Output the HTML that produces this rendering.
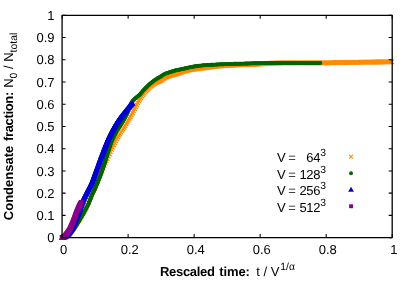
<!DOCTYPE html>
<html><head><meta charset="utf-8"><title>plot</title>
<style>
html,body{margin:0;padding:0;background:#fff;}
body{width:415px;height:291px;overflow:hidden;}
svg{display:block;will-change:transform;}
text{font-family:"Liberation Sans",sans-serif;fill:#000;text-rendering:geometricPrecision;}
</style></head><body>
<svg width="415" height="291" viewBox="0 0 415 291">
<defs>
<marker id="mx" viewBox="-3 -3 6 6" markerWidth="6" markerHeight="6" refX="0" refY="0" markerUnits="userSpaceOnUse" overflow="visible"><path d="M-2.2 -2.2L2.2 2.2M-2.2 2.2L2.2 -2.2" stroke="#ff8c00" stroke-width="1.25" fill="none"/></marker>
<marker id="mc" viewBox="-3 -3 6 6" markerWidth="6" markerHeight="6" refX="0" refY="0" markerUnits="userSpaceOnUse" overflow="visible"><circle r="1.95" fill="#006400"/></marker>
<marker id="mt" viewBox="-4 -4 8 8" markerWidth="8" markerHeight="8" refX="0" refY="0" markerUnits="userSpaceOnUse" overflow="visible"><path d="M0 -3.3L3.2 2.25L-3.2 2.25Z" fill="#0000cd"/></marker>
<marker id="ms" viewBox="-3 -3 6 6" markerWidth="6" markerHeight="6" refX="0" refY="0" markerUnits="userSpaceOnUse" overflow="visible"><rect x="-2.4" y="-2.4" width="4.8" height="4.8" fill="#8b008b"/></marker>
</defs>

<polyline points="62.1,237.6 63.1,237.6 64.2,237.4 65.2,237.2 66.3,236.8 67.3,236.1 68.4,235.3 69.5,234.3 70.5,233.0 71.5,231.6 72.6,230.1 73.7,228.6 74.7,227.0 75.8,225.4 76.8,223.8 77.8,222.2 78.9,220.5 80.0,218.8 81.0,217.0 82.0,215.2 83.1,213.3 84.2,211.3 85.2,209.4 86.2,207.4 87.3,205.2 88.3,202.8 89.4,200.2 90.5,197.5 91.5,195.0 92.6,192.7 93.6,190.5 94.7,188.4 95.7,186.1 96.8,183.7 97.8,181.1 98.8,178.5 99.9,175.7 101.0,173.1 102.0,170.5 103.1,168.0 104.1,165.6 105.2,163.2 106.2,160.9 107.2,158.6 108.3,156.3 109.3,154.0 110.4,151.7 111.5,149.4 112.5,147.2 113.6,145.0 114.6,142.9 115.7,140.8 116.7,138.9 117.8,137.1 118.8,135.4 119.8,133.8 120.9,132.2 122.0,130.6 123.0,129.0 124.1,127.3 125.1,125.7 126.2,123.9 127.2,122.2 128.2,120.4 129.3,118.6 130.3,116.8 131.4,114.9 132.5,113.0 133.5,110.9 134.6,108.8 135.6,106.8 136.7,104.8 137.7,102.8 138.8,100.9 139.8,99.2 140.8,97.6 141.9,96.1 143.0,94.7 144.0,93.4 145.1,92.1 146.1,90.9 147.2,89.8 148.2,88.7 149.2,87.7 150.3,86.7 151.3,85.8 152.4,85.0 153.5,84.2 154.5,83.5 155.6,82.9 156.6,82.3 157.7,81.8 158.7,81.5 159.8,81.2 160.8,80.7 161.8,80.0 162.9,79.2 164.0,78.4 165.0,77.8 166.1,77.2 167.1,76.8 168.2,76.4 169.2,76.0 170.2,75.7 171.3,75.4 172.3,75.1 173.4,74.8 174.5,74.5 175.5,74.2 176.6,73.9 177.6,73.6 178.7,73.2 179.7,72.9 180.8,72.5 181.8,72.2 182.8,71.8 183.9,71.4 185.0,71.1 186.0,70.8 187.1,70.6 188.1,70.3 189.2,70.1 190.2,69.9 191.2,69.7 192.3,69.5 193.3,69.3 194.4,69.2 195.4,69.1 196.5,68.9 197.6,68.8 198.6,68.6 199.7,68.5 200.7,68.3 201.8,68.2 202.8,68.1 203.8,67.9 204.9,67.8 205.9,67.6 207.0,67.5 208.1,67.3 209.1,67.2 210.2,67.1 211.2,67.0 212.2,66.8 213.3,66.7 214.3,66.6 215.4,66.5 216.4,66.3 217.5,66.2 218.6,66.1 219.6,66.0 220.7,65.9 221.7,65.8 222.8,65.7 223.8,65.7 224.8,65.6 225.9,65.5 226.9,65.5 228.0,65.4 229.1,65.4 230.1,65.3 231.2,65.2 232.2,65.2 233.2,65.1 234.3,65.1 235.3,65.0 236.4,64.9 237.4,64.9 238.5,64.8 239.6,64.8 240.6,64.8 241.7,64.7 242.7,64.7 243.8,64.7 244.8,64.6 245.8,64.6 246.9,64.6 247.9,64.6 249.0,64.6 250.1,64.5 251.1,64.5 252.2,64.5 253.2,64.4 254.2,64.4 255.3,64.3 256.4,64.3 257.4,64.2 258.4,64.1 259.5,64.0 260.6,64.0 261.6,63.9 262.7,63.8 263.7,63.7 264.8,63.6 265.8,63.5 266.9,63.5 267.9,63.4 269.0,63.4 270.0,63.3 271.1,63.3 272.1,63.2 273.2,63.2 274.2,63.2 275.2,63.1 276.3,63.1 277.4,63.0 278.4,63.0 279.5,63.0 280.5,63.0 281.6,62.9 282.6,62.9 283.7,62.9 284.7,62.9 285.8,62.9 286.8,62.9 287.9,62.9 288.9,62.9 290.0,62.9 291.0,62.9 292.1,62.9 293.1,62.9 294.2,62.9 295.2,62.9 296.2,62.9 297.3,62.9 298.4,62.9 299.4,62.9 300.5,62.9 301.5,62.9 302.6,62.9 303.6,62.9 304.7,62.9 305.7,62.9 306.8,62.9 307.8,62.9 308.9,62.9 309.9,62.9 311.0,62.9 312.0,62.9 313.1,62.9 314.1,62.9 315.2,62.9 316.2,62.9 317.2,62.9 318.3,62.9 319.4,62.9 320.4,62.9 321.5,62.9 322.5,62.9 323.6,62.9 324.6,62.9 325.7,62.9 326.7,62.8 327.8,62.8 328.8,62.8 329.9,62.8 330.9,62.8 332.0,62.8 333.0,62.7 334.1,62.7 335.1,62.7 336.2,62.7 337.2,62.6 338.3,62.6 339.3,62.6 340.4,62.6 341.4,62.6 342.5,62.5 343.5,62.5 344.6,62.5 345.6,62.5 346.7,62.5 347.7,62.5 348.8,62.4 349.8,62.4 350.9,62.4 351.9,62.4 353.0,62.4 354.0,62.4 355.1,62.3 356.1,62.3 357.2,62.3 358.2,62.3 359.3,62.3 360.3,62.3 361.4,62.2 362.4,62.2 363.5,62.2 364.5,62.2 365.6,62.2 366.6,62.2 367.7,62.2 368.7,62.1 369.8,62.1 370.8,62.1 371.9,62.1 372.9,62.1 374.0,62.1 375.0,62.0 376.1,62.0 377.1,62.0 378.2,62.0 379.2,62.0 380.3,62.0 381.3,62.0 382.4,61.9 383.4,61.9 384.5,61.9 385.5,61.9 386.6,61.9 387.6,61.9 388.7,61.8 389.7,61.8 390.8,61.8 391.8,61.8" fill="none" stroke="none" marker-start="url(#mx)" marker-mid="url(#mx)" marker-end="url(#mx)"/>
<polyline points="62.1,237.6 62.9,237.6 63.7,237.5 64.5,237.4 65.3,237.2 66.1,237.0 66.8,236.7 67.4,236.2 68.1,235.8 68.7,235.3 69.3,234.7 69.9,234.2 70.4,233.6 70.9,233.0 71.4,232.3 71.9,231.7 72.4,231.1 72.9,230.4 73.4,229.8 73.8,229.1 74.2,228.4 74.7,227.8 75.1,227.1 75.6,226.4 76.0,225.8 76.4,225.1 76.9,224.4 77.3,223.8 77.8,223.1 78.2,222.4 78.6,221.7 79.1,221.1 79.5,220.4 79.9,219.7 80.3,219.0 80.7,218.3 81.1,217.6 81.5,216.9 81.9,216.2 82.3,215.6 82.7,214.9 83.1,214.2 83.5,213.4 83.9,212.7 84.3,212.0 84.7,211.3 85.0,210.6 85.4,209.9 85.8,209.2 86.2,208.5 86.5,207.8 86.9,207.1 87.3,206.4 87.6,205.6 87.9,204.9 88.3,204.2 88.6,203.4 88.9,202.7 89.2,202.0 89.5,201.2 89.8,200.5 90.1,199.7 90.4,199.0 90.7,198.2 91.0,197.5 91.3,196.8 91.6,196.0 91.9,195.3 92.2,194.5 92.5,193.8 92.9,193.1 93.2,192.4 93.5,191.6 93.9,190.9 94.2,190.2 94.6,189.5 94.9,188.7 95.3,188.0 95.6,187.3 95.9,186.5 96.2,185.8 96.6,185.1 96.9,184.3 97.2,183.6 97.5,182.9 97.8,182.1 98.1,181.4 98.4,180.6 98.7,179.9 99.0,179.1 99.3,178.4 99.6,177.7 99.9,176.9 100.2,176.2 100.4,175.4 100.7,174.7 101.0,173.9 101.3,173.2 101.5,172.4 101.8,171.6 102.1,170.9 102.4,170.1 102.6,169.4 102.9,168.6 103.1,167.9 103.4,167.1 103.6,166.3 103.9,165.6 104.1,164.8 104.4,164.0 104.6,163.3 104.8,162.5 105.1,161.8 105.3,161.0 105.5,160.2 105.8,159.5 106.0,158.7 106.3,157.9 106.5,157.2 106.7,156.4 107.0,155.6 107.2,154.9 107.5,154.1 107.7,153.3 108.0,152.6 108.2,151.8 108.5,151.1 108.7,150.3 108.9,149.5 109.2,148.8 109.4,148.0 109.7,147.2 109.9,146.5 110.2,145.7 110.4,145.0 110.7,144.2 111.0,143.4 111.2,142.7 111.5,141.9 111.8,141.2 112.1,140.5 112.4,139.7 112.8,139.0 113.1,138.3 113.5,137.6 113.8,136.8 114.2,136.1 114.6,135.4 114.9,134.7 115.3,134.0 115.6,133.3 116.0,132.5 116.3,131.8 116.7,131.1 117.1,130.4 117.5,129.7 117.9,129.0 118.3,128.4 118.8,127.7 119.2,127.0 119.7,126.4 120.2,125.7 120.6,125.0 121.0,124.3 121.4,123.7 121.8,123.0 122.2,122.3 122.7,121.6 123.1,120.9 123.5,120.2 123.9,119.5 124.3,118.8 124.7,118.1 125.1,117.4 125.4,116.7 125.8,116.0 126.2,115.3 126.5,114.6 126.8,113.9 127.2,113.1 127.5,112.4 127.8,111.6 128.0,110.9 128.3,110.1 128.6,109.4 128.8,108.6 129.1,107.8 129.4,107.1 129.6,106.3 130.0,105.6 130.3,104.9 130.6,104.1 131.0,103.4 131.4,102.7 131.8,102.1 132.3,101.4 132.8,100.8 133.3,100.2 133.9,99.6 134.4,99.0 135.0,98.5 135.6,98.0 136.2,97.5 136.9,97.0 137.5,96.5 138.2,96.0 138.8,95.5 139.4,95.0 139.9,94.4 140.4,93.8 141.0,93.2 141.5,92.6 142.0,91.9 142.5,91.3 143.0,90.7 143.6,90.1 144.1,89.5 144.7,89.0 145.2,88.4 145.8,87.8 146.3,87.2 146.9,86.7 147.5,86.1 148.1,85.6 148.6,85.0 149.2,84.5 149.8,83.9 150.4,83.4 151.0,82.9 151.7,82.4 152.3,81.9 152.9,81.4 153.5,80.9 154.2,80.4 154.9,80.0 155.6,79.6 156.2,79.2 156.9,78.7 157.6,78.3 158.3,77.9 159.0,77.5 159.7,77.1 160.4,76.7 161.1,76.3 161.7,75.8 162.4,75.4 163.1,74.9 163.7,74.5 164.4,74.1 165.2,73.8 165.9,73.4 166.6,73.2 167.4,72.9 168.2,72.6 168.9,72.4 169.7,72.2 170.5,71.9 171.2,71.7 172.0,71.4 172.7,71.2 173.5,71.0 174.3,70.7 175.1,70.5 175.8,70.3 176.6,70.2 177.4,70.0 178.2,69.8 179.0,69.7 179.8,69.5 180.5,69.4 181.3,69.2 182.1,69.0 182.9,68.9 183.7,68.7 184.5,68.5 185.2,68.3 186.0,68.2 186.8,68.0 187.6,67.8 188.4,67.6 189.1,67.4 189.9,67.3 190.7,67.1 191.5,66.9 192.3,66.8 193.1,66.7 193.9,66.5 194.7,66.4 195.4,66.3 196.2,66.2 197.0,66.0 197.8,65.9 198.6,65.8 199.4,65.7 200.2,65.6 201.0,65.6 201.8,65.5 202.6,65.4 203.4,65.3 204.2,65.2 205.0,65.2 205.8,65.1 206.6,65.1 207.4,65.0 208.2,65.0 209.0,64.9 209.8,64.9 210.6,64.8 211.4,64.8 212.2,64.8 213.0,64.7 213.8,64.7 214.6,64.6 215.4,64.6 216.2,64.5 217.0,64.5 217.8,64.4 218.6,64.4 219.4,64.4 220.2,64.3 221.0,64.3 221.8,64.2 222.6,64.2 223.4,64.2 224.2,64.1 225.0,64.1 225.8,64.1 226.6,64.1 227.4,64.0 228.2,64.0 229.0,64.0 229.8,64.0 230.6,63.9 231.4,63.9 232.2,63.9 233.0,63.9 233.8,63.8 234.6,63.8 235.4,63.8 236.2,63.8 237.0,63.8 237.8,63.7 238.6,63.7 239.4,63.7 240.2,63.7 241.0,63.7 241.8,63.6 242.6,63.6 243.4,63.6 244.2,63.6 245.0,63.5 245.8,63.5 246.6,63.5 247.4,63.5 248.2,63.5 249.0,63.4 249.8,63.4 250.6,63.4 251.4,63.4 252.2,63.3 253.0,63.3 253.8,63.3 254.6,63.3 255.4,63.3 256.2,63.2 257.0,63.2 257.8,63.2 258.6,63.2 259.4,63.2 260.2,63.1 261.1,63.1 261.9,63.1 262.7,63.1 263.5,63.1 264.3,63.1 265.1,63.0 265.9,63.0 266.7,63.0 267.5,63.0 268.3,63.0 269.1,63.0 269.9,63.0 270.7,63.0 271.5,63.0 272.3,63.0 273.1,63.0 273.9,63.0 274.7,62.9 275.5,62.9 276.3,62.9 277.1,62.9 277.9,62.9 278.7,62.9 279.5,62.9 280.3,62.9 281.1,62.9 281.9,62.9 282.7,62.9 283.5,62.9 284.3,62.9 285.1,62.9 285.9,62.9 286.7,62.9 287.5,62.9 288.3,62.9 289.1,62.9 289.9,62.9 290.7,62.9 291.5,62.9 292.3,62.9 293.1,63.0 293.9,63.0 294.7,63.0 295.5,63.0 296.3,63.0 297.1,63.0 297.9,63.0 298.7,63.0 299.5,63.0 300.3,63.0 301.1,63.0 301.9,63.0 302.7,63.0 303.5,63.0 304.3,63.0 305.1,63.0 305.9,63.0 306.7,63.0 307.5,63.0 308.3,63.0 309.1,63.0 309.9,63.0 310.7,63.0 311.5,63.0 312.3,63.0 313.1,63.0 313.9,63.0 314.7,63.0 315.5,63.0 316.3,63.0 317.1,63.0 317.9,63.0 318.7,63.0 319.5,63.0 320.4,63.0" fill="none" stroke="none" marker-start="url(#mc)" marker-mid="url(#mc)" marker-end="url(#mc)"/>
<polyline points="62.1,237.6 62.9,237.5 63.7,237.3 64.4,237.0 65.2,236.7 65.8,236.3 66.5,235.8 67.0,235.2 67.6,234.6 68.1,234.0 68.6,233.4 69.1,232.8 69.6,232.1 70.1,231.5 70.5,230.8 70.9,230.1 71.4,229.4 71.8,228.8 72.2,228.1 72.5,227.4 72.9,226.6 73.3,225.9 73.6,225.2 73.9,224.5 74.2,223.7 74.5,223.0 74.8,222.2 75.0,221.5 75.3,220.7 75.6,219.9 75.8,219.2 76.1,218.4 76.4,217.7 76.8,217.0 77.1,216.2 77.4,215.5 77.7,214.7 78.0,214.0 78.3,213.3 78.6,212.5 78.8,211.8 79.1,211.0 79.4,210.2 79.6,209.5 79.9,208.7 80.2,208.0 80.4,207.2 80.7,206.5 81.0,205.7 81.3,205.0 81.5,204.2 81.8,203.4 82.1,202.7 82.4,201.9 82.7,201.2 82.9,200.4 83.2,199.7 83.6,199.0 83.9,198.2 84.2,197.5 84.6,196.8 84.9,196.1 85.3,195.3 85.7,194.6 86.0,193.9 86.4,193.2 86.8,192.5 87.1,191.8 87.5,191.1 87.9,190.3 88.2,189.6 88.6,188.9 89.0,188.2 89.4,187.5 89.7,186.8 90.1,186.1 90.5,185.4 90.8,184.6 91.1,183.9 91.5,183.2 91.8,182.5 92.1,181.7 92.4,181.0 92.7,180.2 93.0,179.5 93.3,178.7 93.6,178.0 93.9,177.2 94.1,176.5 94.4,175.7 94.7,175.0 94.9,174.2 95.2,173.5 95.5,172.7 95.7,171.9 96.0,171.2 96.3,170.4 96.6,169.7 96.8,168.9 97.1,168.2 97.4,167.4 97.7,166.7 97.9,165.9 98.2,165.2 98.5,164.4 98.8,163.7 99.0,162.9 99.3,162.1 99.6,161.4 99.8,160.6 100.1,159.9 100.4,159.1 100.7,158.4 100.9,157.6 101.2,156.9 101.5,156.1 101.8,155.4 102.1,154.6 102.3,153.9 102.6,153.1 102.9,152.4 103.2,151.6 103.5,150.9 103.8,150.1 104.0,149.4 104.3,148.6 104.6,147.9 104.9,147.1 105.2,146.4 105.5,145.6 105.8,144.9 106.1,144.1 106.4,143.4 106.7,142.6 107.0,141.9 107.3,141.2 107.6,140.4 107.9,139.7 108.2,138.9 108.6,138.2 108.9,137.5 109.2,136.8 109.6,136.0 109.9,135.3 110.3,134.6 110.6,133.9 111.0,133.1 111.3,132.4 111.7,131.7 112.1,131.0 112.4,130.3 112.8,129.6 113.2,128.9 113.6,128.2 114.0,127.5 114.4,126.8 114.8,126.1 115.2,125.4 115.6,124.7 116.0,124.0 116.4,123.3 116.9,122.7 117.3,122.0 117.7,121.3 118.2,120.6 118.6,120.0 119.1,119.3 119.6,118.7 120.0,118.0 120.5,117.4 121.0,116.8 121.5,116.1 122.0,115.5 122.5,114.8 123.0,114.2 123.5,113.6 124.0,113.0 124.5,112.3 125.0,111.7 125.5,111.1 126.0,110.5 126.5,109.8 127.0,109.2 127.5,108.6 128.0,108.0 128.6,107.4 129.1,106.8 129.6,106.2 130.1,105.6 130.7,105.0 131.2,104.4 131.8,103.8 132.3,103.2" fill="none" stroke="none" marker-start="url(#mt)" marker-mid="url(#mt)" marker-end="url(#mt)"/>
<polyline points="62.1,237.6 62.8,237.3 63.6,236.9 64.2,236.4 64.9,235.9 65.4,235.3 65.9,234.7 66.4,234.0 66.9,233.4 67.4,232.7 67.9,232.1 68.4,231.4 68.8,230.7 69.3,230.0 69.7,229.3 70.1,228.6 70.5,227.9 70.8,227.2 71.1,226.4 71.4,225.6 71.7,224.9 72.0,224.1 72.4,223.4 72.7,222.6 73.0,221.9 73.3,221.1 73.6,220.4 73.9,219.6 74.2,218.9 74.5,218.1 74.8,217.3 75.0,216.6 75.3,215.8 75.6,215.0 75.9,214.2 76.1,213.5 76.4,212.7 76.7,212.0 77.0,211.2 77.3,210.4 77.7,209.7 78.0,208.9 78.3,208.2 78.6,207.4 79.0,206.7 79.3,206.0 79.7,205.2 80.0,204.5 80.4,203.8 80.8,203.1 81.2,202.3" fill="none" stroke="none" marker-start="url(#ms)" marker-mid="url(#ms)" marker-end="url(#ms)"/>
<path d="M349.15000000000003 154.85999999999999L352.95 158.66M349.15000000000003 158.66L352.95 154.85999999999999" stroke="#ff8c00" stroke-width="1.1" fill="none"/>
<circle cx="351.05" cy="173.26" r="1.95" fill="#006400"/>
<path transform="translate(351.05 189.76)" d="M0 -3.05L2.9 2.1L-2.9 2.1Z" fill="#0000cd"/>
<rect x="349.1" y="204.31" width="3.9" height="3.9" fill="#8b008b"/>
<path d="M62.1 15.3H392.2V237.6H62.1Z" fill="none" stroke="#000" stroke-width="1.3" stroke-linejoin="round"/>
<path d="M62.1 237.60h3.5M392.2 237.60h-3.5M62.1 215.37h3.5M392.2 215.37h-3.5M62.1 193.14h3.5M392.2 193.14h-3.5M62.1 170.91h3.5M392.2 170.91h-3.5M62.1 148.68h3.5M392.2 148.68h-3.5M62.1 126.45h3.5M392.2 126.45h-3.5M62.1 104.22h3.5M392.2 104.22h-3.5M62.1 81.99h3.5M392.2 81.99h-3.5M62.1 59.76h3.5M392.2 59.76h-3.5M62.1 37.53h3.5M392.2 37.53h-3.5M62.1 15.30h3.5M392.2 15.30h-3.5M62.10 237.6v-3.5M62.10 15.3v3.5M128.12 237.6v-3.5M128.12 15.3v3.5M194.14 237.6v-3.5M194.14 15.3v3.5M260.16 237.6v-3.5M260.16 15.3v3.5M326.18 237.6v-3.5M326.18 15.3v3.5M392.20 237.6v-3.5M392.20 15.3v3.5" fill="none" stroke="#000" stroke-width="1.05" stroke-linecap="butt"/>
<g opacity="0.999">
<text x="54.6" y="242.30" font-size="13" text-anchor="end">0</text>
<text x="54.6" y="220.07" font-size="13" text-anchor="end">0.1</text>
<text x="54.6" y="197.84" font-size="13" text-anchor="end">0.2</text>
<text x="54.6" y="175.61" font-size="13" text-anchor="end">0.3</text>
<text x="54.6" y="153.38" font-size="13" text-anchor="end">0.4</text>
<text x="54.6" y="131.15" font-size="13" text-anchor="end">0.5</text>
<text x="54.6" y="108.92" font-size="13" text-anchor="end">0.6</text>
<text x="54.6" y="86.69" font-size="13" text-anchor="end">0.7</text>
<text x="54.6" y="64.46" font-size="13" text-anchor="end">0.8</text>
<text x="54.6" y="42.23" font-size="13" text-anchor="end">0.9</text>
<text x="54.6" y="20.00" font-size="13" text-anchor="end">1</text>
<text x="63.70" y="254.2" font-size="13" text-anchor="middle">0</text>
<text x="129.72" y="254.2" font-size="13" text-anchor="middle">0.2</text>
<text x="195.74" y="254.2" font-size="13" text-anchor="middle">0.4</text>
<text x="261.76" y="254.2" font-size="13" text-anchor="middle">0.6</text>
<text x="327.78" y="254.2" font-size="13" text-anchor="middle">0.8</text>
<text x="393.80" y="254.2" font-size="13" text-anchor="middle">1</text>
<text x="276.9" y="162.1" font-size="13" word-spacing="-0.9">V =</text>
<text x="326" y="162.1" font-size="13" text-anchor="end" letter-spacing="-0.3">64<tspan font-size="10.4" dy="-6" letter-spacing="0">3</tspan></text>
<text x="276.9" y="178.9" font-size="13" word-spacing="-0.9">V =</text>
<text x="326" y="178.9" font-size="13" text-anchor="end" letter-spacing="-0.3">128<tspan font-size="10.4" dy="-6" letter-spacing="0">3</tspan></text>
<text x="276.9" y="195.1" font-size="13" word-spacing="-0.9">V =</text>
<text x="326" y="195.1" font-size="13" text-anchor="end" letter-spacing="-0.3">256<tspan font-size="10.4" dy="-6" letter-spacing="0">3</tspan></text>
<text x="276.9" y="211.9" font-size="13" word-spacing="-0.9">V =</text>
<text x="326" y="211.9" font-size="13" text-anchor="end" letter-spacing="-0.3">512<tspan font-size="10.4" dy="-6" letter-spacing="0">3</tspan></text>
<text x="160.0" y="275.6" font-size="13" font-weight="bold" letter-spacing="-0.32">Rescaled</text>
<text x="219.2" y="275.6" font-size="13" font-weight="bold" letter-spacing="-0.1">time:</text>
<text x="256.3" y="275.6" font-size="13">t / V<tspan font-size="10.4" dy="-6" dx="0.8">1/α</tspan></text>
<text transform="translate(12.5 220.2) rotate(-90)" font-size="13" font-weight="bold" letter-spacing="0">Condensate</text>
<text transform="translate(12.5 141.1) rotate(-90)" font-size="13" font-weight="bold" letter-spacing="-0.33">fraction:</text>
<text transform="translate(12.5 87.8) rotate(-90)" font-size="13">N<tspan font-size="10.4" dy="4.3">0</tspan><tspan dy="-4.3"> / N</tspan><tspan font-size="10.4" dy="4.3">total</tspan></text>
</g>
</svg></body></html>
